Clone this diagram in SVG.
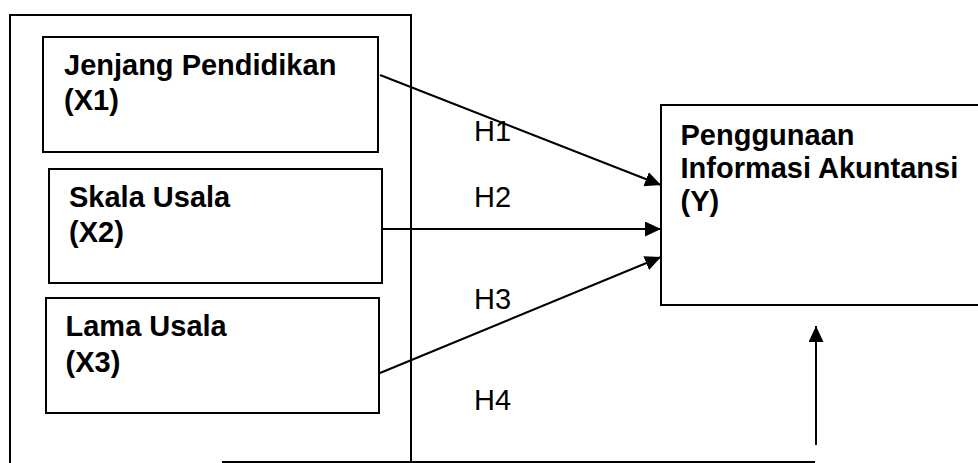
<svg xmlns="http://www.w3.org/2000/svg" width="978" height="463" viewBox="0 0 978 463">
  <style>
    .box { fill: #ffffff; stroke: #000000; stroke-width: 2; }
    .frame { fill: none; stroke: #000000; stroke-width: 2; }
    .link { fill: none; stroke: #000000; stroke-width: 2; }
    .title { font-family: "Liberation Sans", Arial, sans-serif; font-size: 29px; font-weight: bold; fill: #000000; }
    .hyp { font-family: "Liberation Sans", Arial, sans-serif; font-size: 29px; fill: #000000; }
  </style>
  <defs>
    <marker id="arrow" markerUnits="userSpaceOnUse" markerWidth="17" markerHeight="16" refX="16" refY="7.5" orient="auto">
      <path d="M0,0 L16,7.5 L0,15 z" fill="#000000"/>
    </marker>
  </defs>
  <rect width="978" height="463" fill="#ffffff"/>

  <!-- enclosing frame around the independent variables (open at the bottom) -->
  <path class="frame" d="M10,470 V15 H411 V462"/>

  <g id="x1">
    <rect class="box" x="43" y="37" width="335" height="115"/>
    <text class="title" x="64" y="75">Jenjang Pendidikan</text>
    <text class="title" x="64" y="110">(X1)</text>
  </g>

  <g id="x2">
    <rect class="box" x="49" y="169" width="333" height="114"/>
    <text class="title" x="69" y="207">Skala Usala</text>
    <text class="title" x="69" y="242">(X2)</text>
  </g>

  <g id="x3">
    <rect class="box" x="46" y="298" width="333" height="115"/>
    <text class="title" x="65.5" y="336">Lama Usala</text>
    <text class="title" x="65.5" y="372">(X3)</text>
  </g>

  <g id="y">
    <rect class="box" x="661" y="105" width="330" height="200"/>
    <text class="title" x="680.5" y="145">Penggunaan</text>
    <text class="title" x="680.5" y="178">Informasi Akuntansi</text>
    <text class="title" x="680.5" y="211">(Y)</text>
  </g>

  <g id="connectors">
    <path class="link" d="M380,75 L661,185" marker-end="url(#arrow)"/>
    <path class="link" d="M382,229 L661,229" marker-end="url(#arrow)"/>
    <path class="link" d="M380,373 L661,257" marker-end="url(#arrow)"/>
    <path class="link" d="M222,462 H815"/>
    <path class="link" d="M816,445 V326" marker-end="url(#arrow)"/>
  </g>

  <g id="labels">
    <text class="hyp" x="474" y="141">H1</text>
    <text class="hyp" x="474" y="207">H2</text>
    <text class="hyp" x="474" y="309">H3</text>
    <text class="hyp" x="474" y="410">H4</text>
  </g>
</svg>
